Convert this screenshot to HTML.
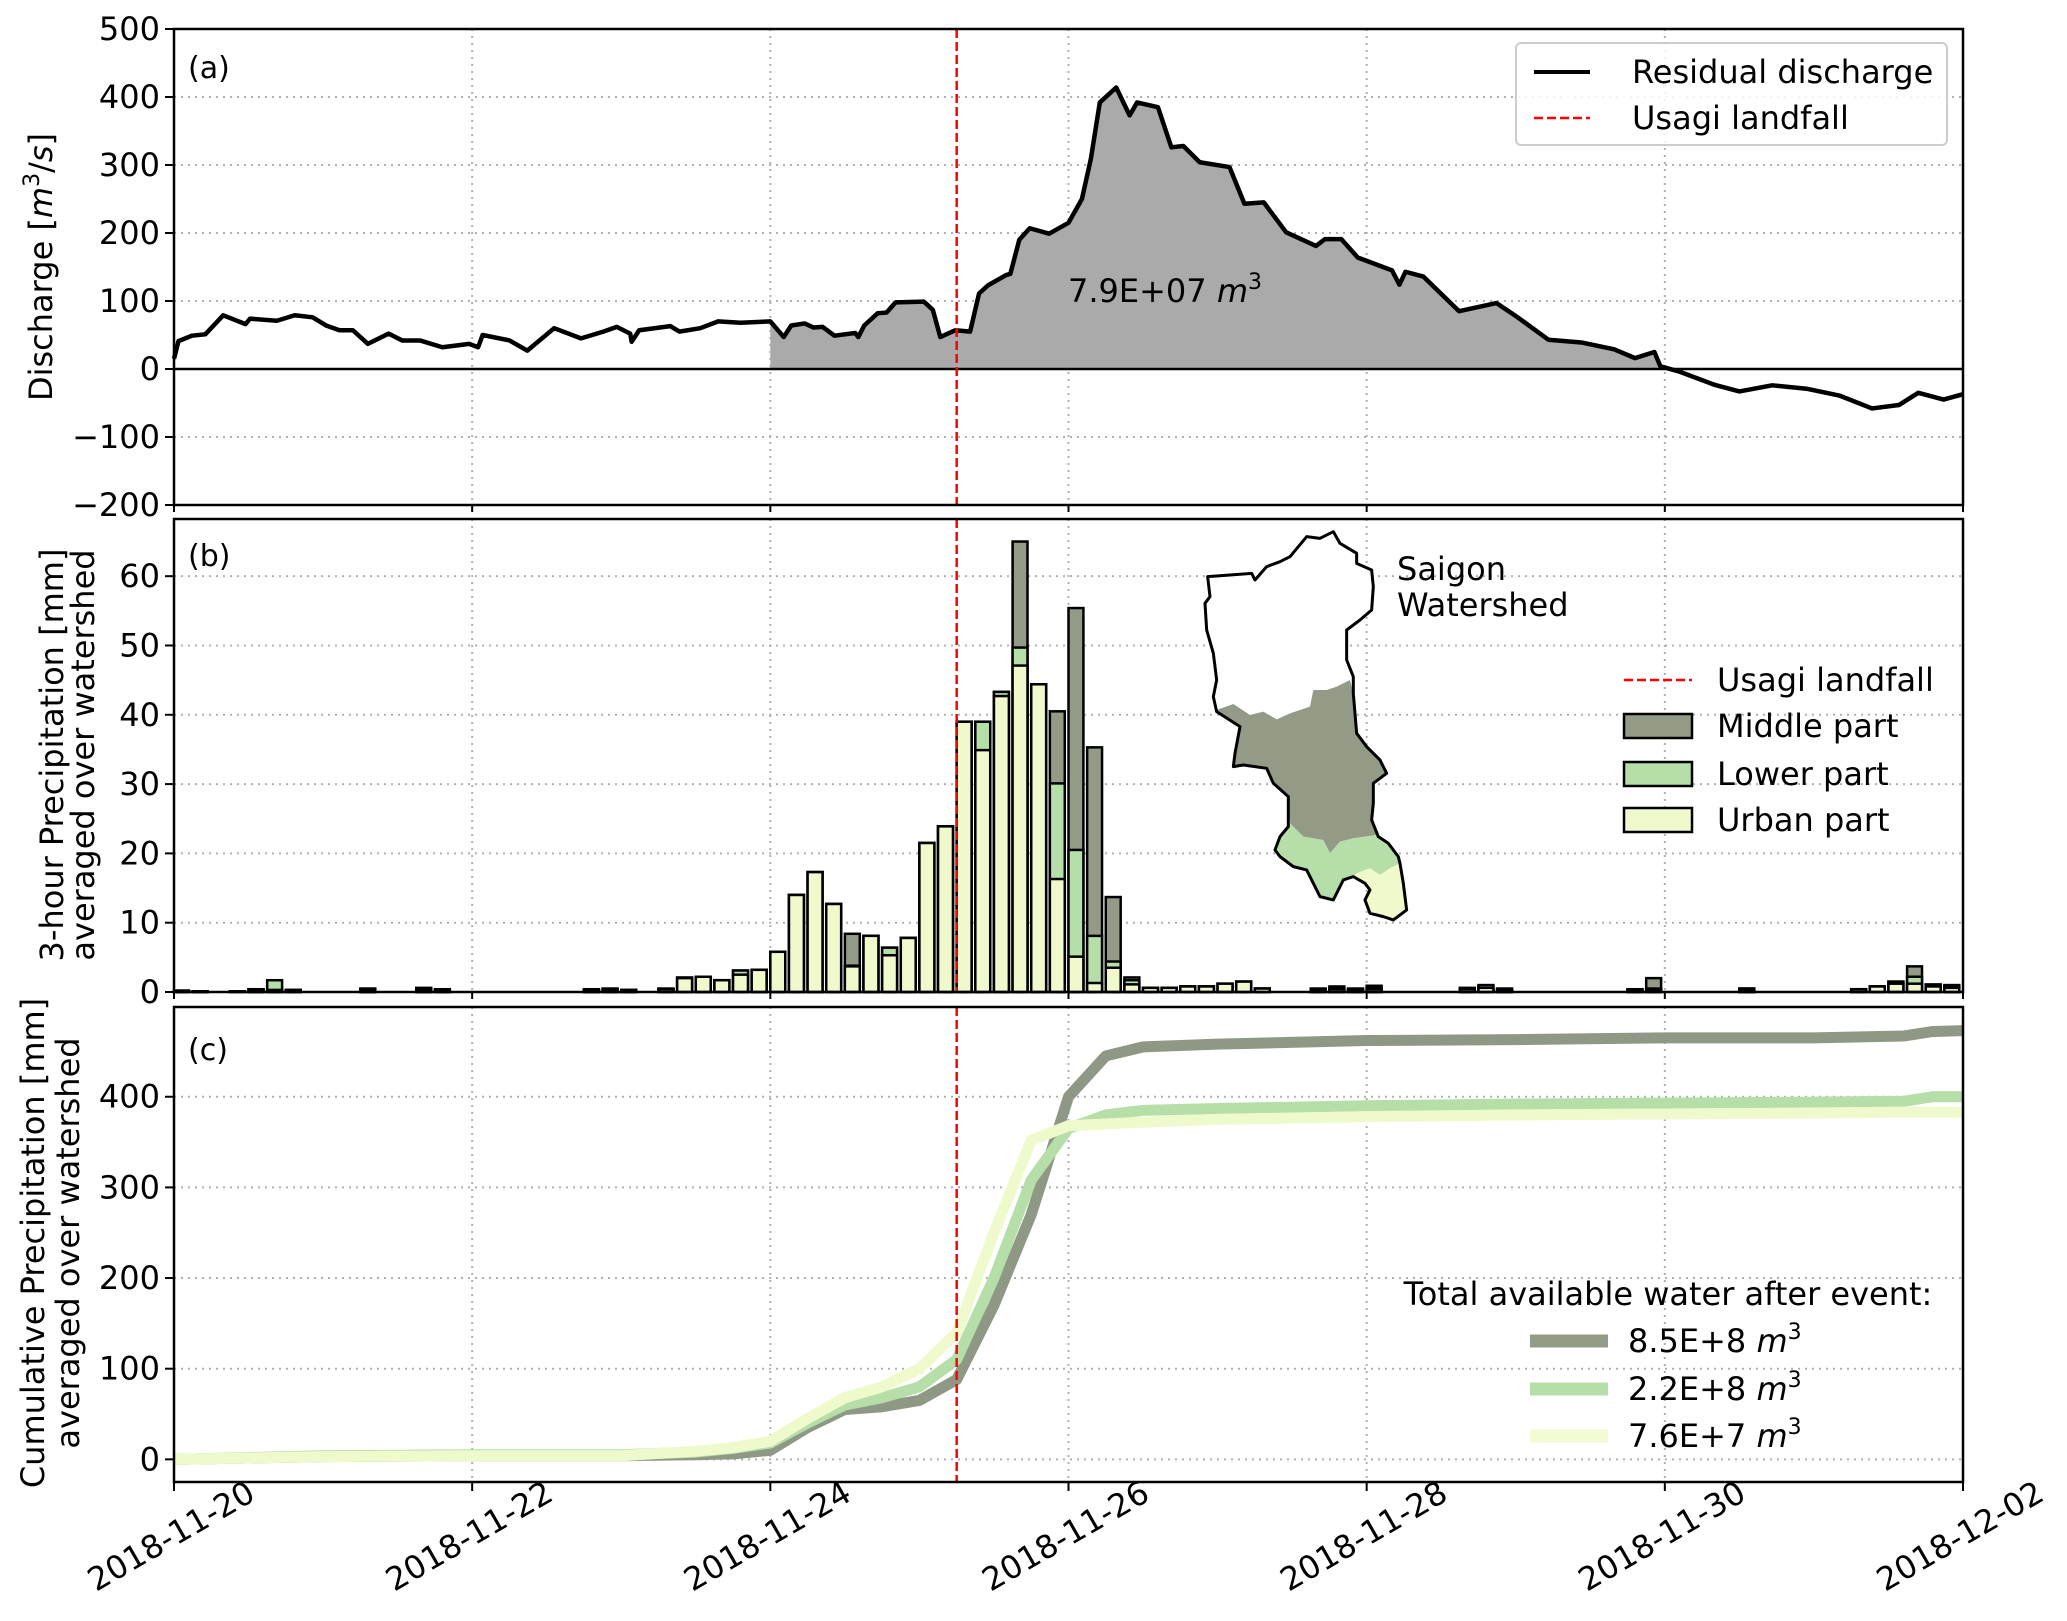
<!DOCTYPE html>
<html><head><meta charset="utf-8">
<style>
html,body{margin:0;padding:0;background:#fff;}
svg{display:block;font-family:"DejaVu Sans","Liberation Sans",sans-serif;}
</style></head>
<body>
<svg id="fig" width="2067" height="1621" viewBox="0 0 2067 1621" xmlns="http://www.w3.org/2000/svg">
<g id="bg"></g>
</svg>
<script>
// ---------- data ----------
const xTickLabels = ["2018-11-20","2018-11-22","2018-11-24","2018-11-26","2018-11-28","2018-11-30","2018-12-02"];
const landfallDay = 5.25;
// Panel (a) residual discharge (days since 2018-11-20, m3/s)
const dayQ = [0,0.03,0.12,0.21,0.33,0.48,0.51,0.69,0.81,0.93,1.02,1.11,1.2,1.3,1.44,1.53,1.65,1.8,1.98,2.04,2.07,2.25,2.37,2.55,2.73,2.88,2.97,3.06,3.07,3.12,3.33,3.39,3.53,3.65,3.8,4.0,4.09,4.14,4.23,4.29,4.35,4.43,4.57,4.59,4.63,4.72,4.78,4.84,5.03,5.09,5.14,5.24,5.34,5.40,5.46,5.58,5.61,5.67,5.74,5.87,6.0,6.09,6.15,6.21,6.32,6.41,6.46,6.6,6.69,6.77,6.88,7.08,7.18,7.31,7.46,7.66,7.72,7.83,7.94,8.17,8.22,8.26,8.38,8.62,8.87,9.0,9.22,9.44,9.66,9.8,9.93,9.97,10.1,10.33,10.5,10.72,10.95,11.17,11.39,11.57,11.7,11.87,12.0];
const valQ = [15,41,49,51,79,66,74,71,79,76,64,57,57,37,52,42,42,32,37,32,50,42,27,60,45,55,62,52,40,57,63,55,60,70,68,70,47,64,67,61,62,49,53,47,64,82,83,98,99,87,47,57,55,111,123,138,140,190,207,199,215,250,309,392,414,373,392,385,326,328,304,297,243,245,201,181,191,191,164,145,124,143,136,85,97,78,43,39,29,16,25,4,-4,-23,-33,-24,-29,-39,-58,-53,-35,-45,-37];
const fillStartDay = 4.0;
const volumeLabel = "7.9E+07";
const qTicks = [-200,-100,0,100,200,300,400,500];
// Panel (b) 3-hourly precipitation, one bar per 3h (index k -> day k/8)
const precipMiddle = [0.2,0.1,0,0.1,0.4,0.5,0.3,0,0,0,0.5,0,0,0.6,0.4,0,0,0,0,0,0,0,0.4,0.5,0.3,0,0.5,2.1,2.2,1.7,3.1,3.2,5.8,14.0,17.3,12.7,8.4,8.1,6.4,7.8,21.5,23.9,39.0,39.0,43.3,65.0,44.4,40.5,55.4,35.3,13.7,2.1,0.6,0.6,0.8,0.8,1.2,1.5,0.5,0,0,0.5,0.8,0.5,0.9,0,0,0,0,0.6,0.8,0.5,0,0,0,0,0,0,0.4,2.0,0,0,0,0,0.5,0,0,0,0,0,0.4,0.8,1.5,3.7,1.1,1.0];
const precipLower = [0.2,0.1,0,0.1,0.4,1.7,0.3,0,0,0,0.4,0,0,0.4,0.3,0,0,0,0,0,0,0,0.3,0.4,0.3,0,0.4,2.0,2.2,1.7,3.1,3.2,5.8,14.0,17.3,12.7,3.8,8.1,6.4,7.8,21.5,23.9,39.0,39.0,43.3,49.7,44.4,30.1,20.5,8.1,4.4,1.7,0.6,0.6,0.8,0.8,1.2,1.5,0.5,0,0,0.4,0.5,0.4,0.6,0,0,0,0,0.5,1.0,0.4,0,0,0,0,0,0,0.3,0.5,0,0,0,0,0.5,0,0,0,0,0,0.4,0.8,1.5,2.2,1.0,0.8];
const precipUrban = [0.1,0.1,0,0,0.3,0.3,0.2,0,0,0,0.3,0,0,0.3,0.2,0,0,0,0,0,0,0,0.3,0.3,0.2,0,0.4,2.0,2.2,1.7,2.5,3.2,5.8,14.0,17.3,12.7,3.7,8.1,5.3,7.8,21.5,23.9,39.0,34.9,42.7,47.1,44.4,16.3,5.1,1.3,3.5,1.1,0.6,0.6,0.8,0.8,1.2,1.5,0.5,0,0,0.3,0.4,0.3,0.4,0,0,0,0,0.4,0.6,0.3,0,0,0,0,0,0,0.3,0.3,0,0,0,0,0.3,0,0,0,0,0,0.4,0.8,1.2,1.2,0.8,0.6];
const pTicks = [0,10,20,30,40,50,60];
// Panel (c) cumulative precipitation
const dayC = [0,1,2,3,3.5,3.75,4.0,4.25,4.5,4.75,5.0,5.25,5.5,5.75,6.0,6.25,6.5,7,8,9,10,11,11.6,11.8,12];
const cumMiddle = [0,3,4,4,5,6,10,35,55,58,65,88,170,270,400,445,455,458,462,463,465,465,467,472,473];
const cumLower = [0,4,5,5,8,12,18,40,60,68,80,110,200,308,365,380,385,387,390,392,393,394,395,400,400];
const cumUrban = [0,3,4,4,9,13,20,45,68,80,100,140,250,352,368,370,372,375,378,380,381,382,383,383,383];
const cTicks = [0,100,200,300,400];
const totals = ["8.5E+8","2.2E+8","7.6E+7"];

// ---------- layout ----------
const NS="http://www.w3.org/2000/svg";
const svg=document.getElementById('fig');
const FS=32;
const L=174,R=1963;
const X=d=>L+(R-L)*d/12;
const A={top:29,bot:505,min:-200,max:500};
const B={top:519,bot:992,min:0,max:68.25};
const C={top:1007,bot:1482,min:-25,max:499};
const Y=(P,v)=>P.bot-(v-P.min)/(P.max-P.min)*(P.bot-P.top);
const COL={mid:"#939b87",low:"#b6dea9",urb:"#eff9cc",grid:"#b0b0b0"};
function el(tag,attrs,parent){const e=document.createElementNS(NS,tag);for(const k in attrs)e.setAttribute(k,attrs[k]);(parent||svg).appendChild(e);return e;}
function txt(s,attrs,parent){const e=el('text',attrs,parent);e.innerHTML=s;return e;}
const M3='<tspan font-style="italic">m</tspan><tspan font-size="22" dy="-13">3</tspan>';

function panelFrame(P,ticks,name){
  const g=el('g',{});
  
  
  for(let i=0;i<=6;i++){
    const gl=el('line',{x1:X(i*2),x2:X(i*2),y1:P.top,y2:P.bot,stroke:COL.grid,'stroke-width':2,'stroke-dasharray':'2,5'},g);
    
    
  }
  ticks.forEach(t=>{
    const y=Y(P,t);
    const gl=el('line',{x1:L,x2:R,y1:y,y2:y,stroke:COL.grid,'stroke-width':2,'stroke-dasharray':'2,5'},g);
    
    
    el('line',{x1:L-9,x2:L,y1:y,y2:y,stroke:'#000','stroke-width':2},g);
    const t1=txt(String(t).replace('-','\u2212'),{x:L-14,y:y,'font-size':FS,'text-anchor':'end','dominant-baseline':'central'},g);
    
    
  });
  return g;
}
function frameRect(P,name){
  const r=el('rect',{x:L,y:P.top,width:R-L,height:P.bot-P.top,fill:'none',stroke:'#000','stroke-width':2.5});
  
  
}
function landfall(P){
  const l=el('line',{x1:X(landfallDay),x2:X(landfallDay),y1:P.top,y2:P.bot,stroke:'#ff0000','stroke-width':2.5,'stroke-dasharray':'9,4'});
  
  
}

// ===== Panel A =====
panelFrame(A,qTicks,'panel-a');
{
  let pts=[];
  for(let i=0;i<dayQ.length;i++){ if(dayQ[i]>=fillStartDay && valQ[i]>=0) pts.push([X(dayQ[i]),Y(A,valQ[i])]); }
  let endX=pts[pts.length-1][0];
  for(let i=1;i<dayQ.length;i++){ if(dayQ[i]>fillStartDay && valQ[i-1]>=0 && valQ[i]<0){const f=valQ[i-1]/(valQ[i-1]-valQ[i]);endX=X(dayQ[i-1]+f*(dayQ[i]-dayQ[i-1]));} }
  let d='M'+pts[0][0]+','+Y(A,0)+' '+pts.map(p=>'L'+p[0]+','+p[1]).join(' ')+' L'+endX+','+Y(A,0)+' Z';
  const f=el('path',{d:d,fill:'#aaaaaa',stroke:'none'});
  
  
  const z=el('line',{x1:L,x2:R,y1:Y(A,0),y2:Y(A,0),stroke:'#000','stroke-width':2.5});
  
  
  const line=el('polyline',{points:dayQ.map((t,i)=>X(t)+','+Y(A,valQ[i])).join(' '),fill:'none',stroke:'#000','stroke-width':4.5,'stroke-linejoin':'round'});
  
  
  const ann=txt(volumeLabel+' '+M3,{x:1068,y:302,'font-size':FS});
  
  
}
landfall(A);
frameRect(A,'panel-a');
{
  const lab=txt('(a)',{x:188,y:78,'font-size':30});
  
  
  const yl=txt('Discharge ['+M3+'<tspan dy="13">/</tspan><tspan font-style="italic">s</tspan>]',{x:0,y:0,'font-size':FS,'text-anchor':'middle',transform:'translate(52,267) rotate(-90)'});
  
  
  const lg=el('g',{});
  
  
  el('rect',{x:1516,y:43,width:431,height:102,rx:5,fill:'#fff','fill-opacity':0.85,stroke:'#cccccc','stroke-width':2},lg);
  el('line',{x1:1534,x2:1590,y1:72,y2:72,stroke:'#000','stroke-width':4},lg);
  txt('Residual discharge',{x:1632,y:72,'font-size':FS,'dominant-baseline':'central'},lg);
  el('line',{x1:1534,x2:1590,y1:118,y2:118,stroke:'#ff0000','stroke-width':2.5,'stroke-dasharray':'9,4'},lg);
  txt('Usagi landfall',{x:1632,y:118,'font-size':FS,'dominant-baseline':'central'},lg);
}

// ===== Panel B =====
panelFrame(B,pTicks,'panel-b');
{
  const bw=0.1;
  [[precipMiddle,COL.mid,'bar-middle'],[precipLower,COL.low,'bar-lower'],[precipUrban,COL.urb,'bar-urban']].forEach(([arr,c,nm])=>{
    arr.forEach((v,k)=>{
      if(v<=0) return;
      const x0=X(k/8), x1=X(k/8+bw);
      const b=el('rect',{x:x0,y:Y(B,v),width:x1-x0,height:Y(B,0)-Y(B,v),fill:c,stroke:'#000','stroke-width':2.5});
      
      
    });
  });
}
landfall(B);
{
  const g=el('g',{transform:'translate(1180,520) scale(0.3333)'});
  
  
  const outline="83,170 150,165 215,160 225,180 260,140 300,125 330,110 380,50 420,55 460,35 480,70 530,100 530,130 575,150 580,200 575,270 540,300 500,330 500,420 520,470 520,520 530,640 560,680 600,720 620,760 580,790 580,850 575,900 595,950 625,970 655,1010 660,1030 670,1090 680,1170 640,1200 610,1190 570,1180 555,1140 570,1110 555,1090 520,1070 490,1080 480,1100 460,1140 420,1130 400,1090 380,1050 340,1040 300,1010 285,990 300,950 325,920 325,830 280,790 260,745 190,735 160,740 165,700 180,620 110,575 100,530 110,480 100,400 80,330 75,250 90,230";
  const mid="110,570 160,552 210,585 250,575 290,598 330,580 390,560 400,510 440,510 470,500 510,480 520,520 530,640 560,680 600,720 620,760 580,790 580,850 575,900 590,945 520,955 480,965 450,1000 430,960 370,950 330,910 325,830 280,790 260,745 190,735 160,740 165,700 180,620";
  const low="330,910 370,950 430,960 450,1000 480,965 520,955 590,945 625,970 655,1010 660,1030 630,1045 600,1065 570,1045 530,1060 520,1070 490,1080 480,1100 460,1140 420,1130 400,1090 380,1050 340,1040 300,1010 285,990 300,950 325,920";
  const urb="530,1060 570,1045 600,1065 630,1045 660,1030 670,1090 680,1170 640,1200 610,1190 570,1180 555,1140 570,1110 555,1090 520,1070";
  el('polygon',{points:outline,fill:'#fff',stroke:'none'},g);
  const pm=el('polygon',{points:mid,fill:COL.mid,stroke:'none'},g);
  
  
  const pl=el('polygon',{points:low,fill:COL.low,stroke:'none'},g);
  
  
  const pu=el('polygon',{points:urb,fill:COL.urb,stroke:'none'},g);
  
  
  el('polygon',{points:outline,fill:'none',stroke:'#000','stroke-width':9,'stroke-linejoin':'round'},g);
  const t1=txt('Saigon',{x:1397,y:569,'font-size':FS,'dominant-baseline':'central'});
  
  
  const t2=txt('Watershed',{x:1397,y:605,'font-size':FS,'dominant-baseline':'central'});
  
  
}
frameRect(B,'panel-b');
{
  const lab=txt('(b)',{x:188,y:566,'font-size':30});
  
  
  const y1=txt('3-hour Precipitation [mm]',{x:0,y:0,'font-size':FS,'text-anchor':'middle','dominant-baseline':'central',transform:'translate(52,755) rotate(-90)'});
  
  
  const y2=txt('averaged over watershed',{x:0,y:0,'font-size':FS,'text-anchor':'middle','dominant-baseline':'central',transform:'translate(83,755) rotate(-90)'});
  
  
  const lg=el('g',{});
  
  
  el('line',{x1:1624,x2:1692,y1:680,y2:680,stroke:'#ff0000','stroke-width':2.5,'stroke-dasharray':'9,4'},lg);
  txt('Usagi landfall',{x:1717,y:680,'font-size':FS,'dominant-baseline':'central'},lg);
  [['Middle part',COL.mid,726],['Lower part',COL.low,774],['Urban part',COL.urb,820]].forEach(([s,c,y])=>{
    el('rect',{x:1624,y:y-12,width:68,height:24,fill:c,stroke:'#000','stroke-width':2.5},lg);
    txt(s,{x:1717,y:y,'font-size':FS,'dominant-baseline':'central'},lg);
  });
}

// ===== Panel C =====
panelFrame(C,cTicks,'panel-c');
[[cumMiddle,'#8f9884','cumulative-middle-line'],[cumLower,COL.low,'cumulative-lower-line'],[cumUrban,'#eefacb','cumulative-urban-line']].forEach(([arr,c,nm])=>{
  const p=el('polyline',{points:dayC.map((t,i)=>X(t)+','+Y(C,arr[i])).join(' '),fill:'none',stroke:c,'stroke-width':11,'stroke-linejoin':'round'});
  
  
});
landfall(C);
frameRect(C,'panel-c');
{
  const lab=txt('(c)',{x:188,y:1060,'font-size':30});
  
  
  const y1=txt('Cumulative Precipitation [mm]',{x:0,y:0,'font-size':FS,'text-anchor':'middle','dominant-baseline':'central',transform:'translate(33,1243) rotate(-90)'});
  
  
  const y2=txt('averaged over watershed',{x:0,y:0,'font-size':FS,'text-anchor':'middle','dominant-baseline':'central',transform:'translate(68,1243) rotate(-90)'});
  
  
  const lg=el('g',{});
  
  
  txt('Total available water after event:',{x:1668,y:1294,'font-size':FS,'text-anchor':'middle','dominant-baseline':'central'},lg);
  const cols=['#939b87',COL.low,'#f2fbd2'];
  [1341,1389,1436].forEach((y,i)=>{
    el('line',{x1:1530,x2:1608,y1:y,y2:y,stroke:cols[i],'stroke-width':13},lg);
    txt(totals[i]+' '+M3,{x:1628,y:y+11,'font-size':FS},lg);
  });
  xTickLabels.forEach((s,i)=>{
    const x=X(i*2);
    el('line',{x1:x,x2:x,y1:C.bot,y2:C.bot+9,stroke:'#000','stroke-width':2});
    const t=txt(s,{x:0,y:0,'font-size':FS,'text-anchor':'middle','dominant-baseline':'central',transform:'translate('+(x-3)+',1536) rotate(-30)'});
    
    
  });
  [A,B].forEach(P=>{for(let i=0;i<=6;i++){el('line',{x1:X(i*2),x2:X(i*2),y1:P.bot,y2:P.bot+7,stroke:'#000','stroke-width':2});}});
}
</script>
</body></html>
